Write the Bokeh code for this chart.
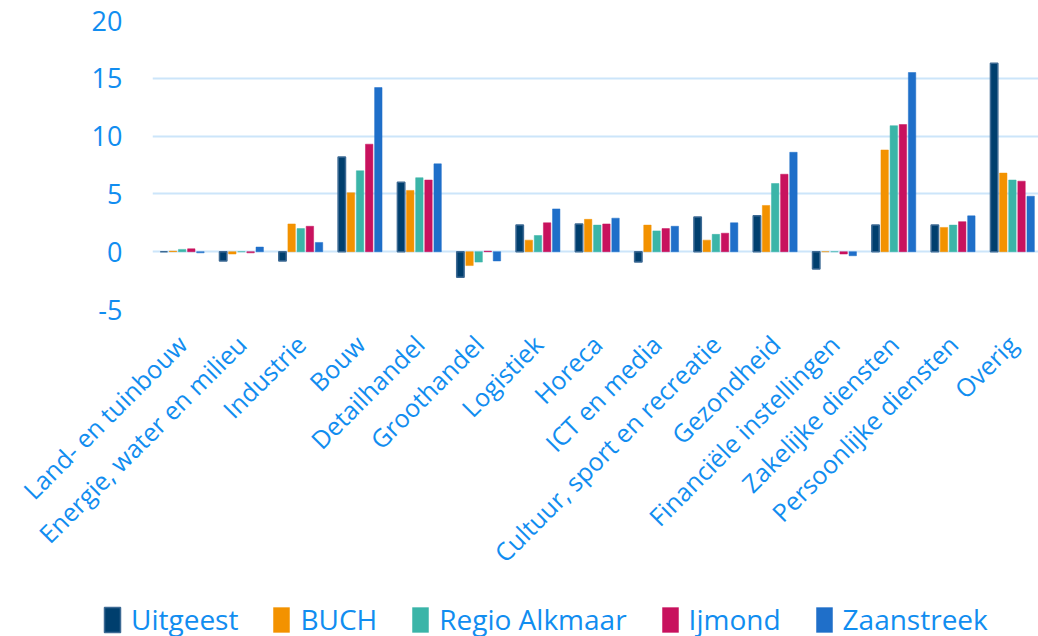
import math
from bokeh.plotting import figure
from bokeh.layouts import column
from bokeh.models import (ColumnDataSource, Range1d, FixedTicker,
                          CustomJSTickFormatter, Legend, LegendItem)
from bokeh.transform import dodge
from bokeh.embed import file_html
from bokeh.resources import INLINE

categories = ["Land- en tuinbouw", "Energie, water en milieu", "Industrie", "Bouw",
              "Detailhandel", "Groothandel", "Logistiek", "Horeca", "ICT en media",
              "Cultuur, sport en recreatie", "Gezondheid", "Financiële instellingen",
              "Zakelijke diensten", "Persoonlijke diensten", "Overig"]

uitgeest = [0.0, -0.8, -0.8, 8.2, 6.0, -2.2, 2.3, 2.4, -0.9, 3.0, 3.1, -1.5, 2.3, 2.3, 16.3]
buch = [0.05, -0.2, 2.4, 5.1, 5.3, -1.2, 1.0, 2.8, 2.3, 1.0, 4.0, 0.0, 8.8, 2.1, 6.8]
regio_alkmaar = [0.2, 0.0, 2.0, 7.0, 6.4, -0.9, 1.4, 2.3, 1.8, 1.5, 5.9, 0.0, 10.9, 2.3, 6.2]
ijmond = [0.25, -0.1, 2.2, 9.3, 6.2, 0.05, 2.5, 2.4, 2.0, 1.6, 6.7, -0.2, 11.0, 2.6, 6.1]
zaanstreek = [-0.1, 0.4, 0.8, 14.2, 7.6, -0.8, 3.7, 2.9, 2.2, 2.5, 8.6, -0.35, 15.5, 3.1, 4.8]

series_names = ["Uitgeest", "BUCH", "Regio Alkmaar", "Ijmond", "Zaanstreek"]
series_values = [uitgeest, buch, regio_alkmaar, ijmond, zaanstreek]
colors = ["#003f6e", "#f39200", "#3bb5a8", "#c8125e", "#1f6fc9"]
y_ticks = [-5, 0, 5, 10, 15, 20]

TEXT = "#118df0"
GRID = "#cce5fa"
FONT = "Open Sans"

data = {"x": [i + 0.5 for i in range(len(categories))], "cat": categories}
for name, vals in zip(series_names, series_values):
    data[name] = vals
src = ColumnDataSource(data)

p = figure(frame_width=886, frame_height=289, x_range=Range1d(0, 14.94), y_range=Range1d(-5, 20),
           output_backend="svg", toolbar_location=None,
           min_border_left=152, min_border_top=20, min_border_right=0, min_border_bottom=291)
p.outline_line_color = None
p.background_fill_color = "white"
p.border_fill_color = "white"

p.xgrid.grid_line_color = None
p.ygrid.grid_line_color = GRID
p.ygrid.grid_line_width = 2
p.ygrid.ticker = FixedTicker(ticks=y_ticks)

p.yaxis.ticker = FixedTicker(ticks=y_ticks)
p.yaxis.formatter = CustomJSTickFormatter(code="return String(tick);")
p.yaxis.axis_line_color = None
p.yaxis.major_tick_line_color = None
p.yaxis.minor_tick_line_color = None
p.yaxis.major_label_standoff = 24
p.yaxis.major_label_text_font = FONT
p.yaxis.major_label_text_font_size = "27px"
p.yaxis.major_label_text_color = TEXT

p.xaxis.ticker = FixedTicker(ticks=data["x"])
p.xaxis.formatter = CustomJSTickFormatter(args=dict(names=categories),
                                          code="return names[Math.floor(tick)];")
p.xaxis.axis_line_color = None
p.xaxis.major_tick_line_color = None
p.xaxis.minor_tick_line_color = None
p.xaxis.major_label_orientation = math.pi / 4
p.xaxis.major_label_standoff = 24
p.xaxis.major_label_text_font = FONT
p.xaxis.major_label_text_font_size = "25px"
p.xaxis.major_label_text_color = TEXT

offsets = [-0.308, -0.154, 0.0, 0.154, 0.308]
styles = []
for name, col, off in zip(series_names, colors, offsets):
    lc = "#3d6a94" if name == "Uitgeest" else col
    lw = 1.5 if name == "Uitgeest" else 0.5
    styles.append((lc, lw))
    p.vbar(x=dodge("x", off), top=name, bottom=0, width=0.125, source=src,
           fill_color=col, line_color=lc, line_width=lw)

# legend strip: a small companion figure below the chart (its bars lie outside its view)
lp = figure(width=1038, height=40, x_range=Range1d(-100, -99), y_range=Range1d(100, 101),
            output_backend="svg", toolbar_location=None,
            x_axis_type=None, y_axis_type=None,
            min_border_left=0, min_border_right=0, min_border_top=0, min_border_bottom=0)
lp.outline_line_color = None
lp.grid.grid_line_color = None
lp.background_fill_alpha = 0
lp.border_fill_alpha = 0
items = []
for name, col, (lc, lw) in zip(series_names, colors, styles):
    r = lp.vbar(x="x", top=name, bottom=0, width=0.125, source=src,
                fill_color=col, line_color=lc, line_width=lw)
    items.append(LegendItem(label=name, renderers=[r]))
legend = Legend(items=items, orientation="horizontal", location=(0, 2),
                glyph_width=20, glyph_height=31, label_standoff=9, spacing=33,
                padding=0, margin=0, border_line_color=None, background_fill_alpha=0,
                label_text_font=FONT, label_text_font_size="28px", label_text_color=TEXT)
lp.add_layout(legend, "center")
lp.styles = {"margin-left": "-50px"}

layout = column(p, lp)
open("out.html", "w").write(file_html(layout, INLINE))
